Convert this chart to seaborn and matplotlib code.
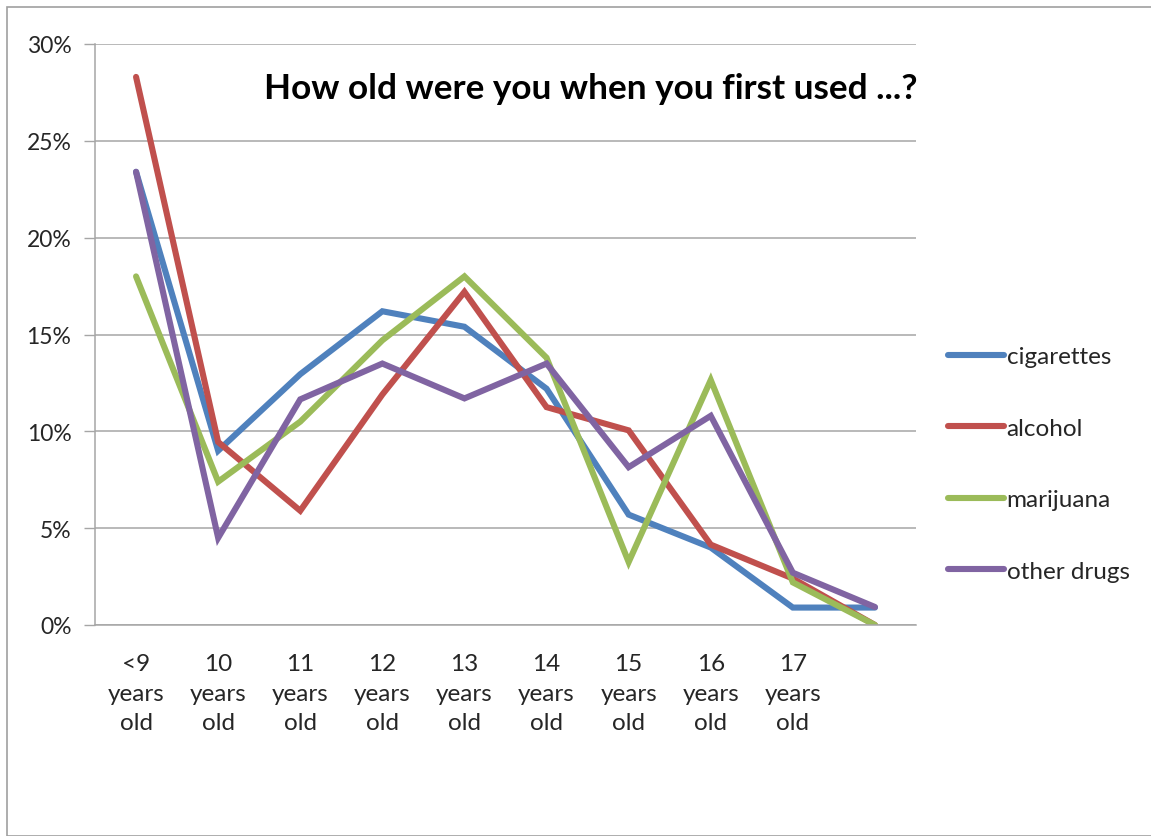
import matplotlib
matplotlib.use("Agg")
import matplotlib.pyplot as plt
import seaborn as sns
import pandas as pd
import numpy as np
from matplotlib.patches import Rectangle
from matplotlib.lines import Line2D

categories = ["<9\nyears\nold", "10\nyears\nold", "11\nyears\nold", "12\nyears\nold",
              "13\nyears\nold", "14\nyears\nold", "15\nyears\nold", "16\nyears\nold",
              "17\nyears\nold", ""]
cigarettes = [23.4, 9.0, 12.95, 16.2, 15.4, 12.2, 5.7, 4.0, 0.9, 0.9]
alcohol = [28.3, 9.45, 5.9, 11.9, 17.2, 11.25, 10.05, 4.15, 2.4, 0.0]
marijuana = [18.0, 7.4, 10.5, 14.7, 18.0, 13.8, 3.25, 12.65, 2.2, 0.0]
other_drugs = [23.4, 4.5, 11.65, 13.5, 11.7, 13.5, 8.15, 10.8, 2.7, 0.93]
series_names = ["cigarettes", "alcohol", "marijuana", "other drugs"]
colors = ["#4F81BD", "#C0504D", "#9BBB59", "#8064A2"]
y_ticks = [0, 5, 10, 15, 20, 25, 30]
title = "How old were you when you first used ...?"

rows = []
for name, vals in zip(series_names, [cigarettes, alcohol, marijuana, other_drugs]):
    for i, v in enumerate(vals):
        rows.append({"pos": i, "value": v, "series": name})
df = pd.DataFrame(rows)

sns.set_style("white")
plt.rcParams["font.family"] = ["Lato", "DejaVu Sans"]

fig = plt.figure(figsize=(11.51, 8.37), dpi=100)
ax = fig.add_axes([95/1151, 1-626/837, (916-95)/1151, (626-45)/837])

sns.lineplot(data=df, x="pos", y="value", hue="series", hue_order=series_names,
             palette=colors, linewidth=4.4, ax=ax, legend=False, sort=False,
             solid_joinstyle="miter")

ax.set_xlim(-0.5, 9.5)
ax.set_ylim(0, 30)
ax.set_yticks(y_ticks)
ax.set_yticklabels([f"{t}%" for t in y_ticks], fontsize=16.5)
ax.yaxis.grid(True, color="#A6A6A6", linewidth=1.1)
ax.xaxis.grid(False)
ax.set_xticks(range(len(categories)))
ax.set_xticklabels(categories, fontsize=17.5, linespacing=1.52)
ax.set_xticks(np.arange(-0.5, 10, 1), minor=True)
ax.tick_params(axis="x", which="major", length=0, pad=20)
ax.tick_params(axis="x", which="minor", length=7, color="#A6A6A6", width=1)
ax.tick_params(axis="y", which="major", length=8, color="#A6A6A6", width=1, pad=9, left=True)
ax.set_xlabel("")
ax.set_ylabel("")
for s in ["top", "right"]:
    ax.spines[s].set_visible(False)
for s in ["left", "bottom"]:
    ax.spines[s].set_color("#A6A6A6")
    ax.spines[s].set_linewidth(1.1)

ax.text(1.002, 0.925, title, transform=ax.transAxes, ha="right", va="center",
        fontsize=25.3, fontweight="bold", color="black")

handles = [Line2D([0], [0], color=c, linewidth=4.4, solid_capstyle="round") for c in colors]
fig.legend(handles, series_names, loc="center left", bbox_to_anchor=(926/1151, 1-465/837),
           frameon=False, fontsize=17.5, handlelength=2.3, handletextpad=0.12,
           labelspacing=2.08)

fig.patches.append(Rectangle((7/1151, 0), 1.2, 1-8/837, transform=fig.transFigure,
                             fill=False, edgecolor="#A0A0A0", linewidth=1.2))

fig.savefig("out.png", dpi=100, facecolor="white")
